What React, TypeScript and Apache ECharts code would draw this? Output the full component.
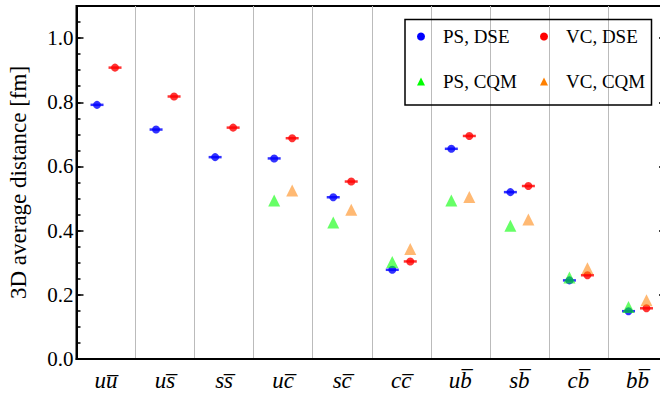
import React, { useEffect, useRef } from "react";
import * as echarts from "echarts";

const categories = [
  "u" + "u\u0305",
  "u" + "s\u0305",
  "s" + "s\u0305",
  "u" + "c\u0305",
  "s" + "c\u0305",
  "c" + "c\u0305",
  "u" + "b\u0305",
  "s" + "b\u0305",
  "c" + "b\u0305",
  "b" + "b\u0305",
];

const psDSE = [0.792, 0.715, 0.629, 0.625, 0.504, 0.278, 0.655, 0.52, 0.245, 0.149];
const vcDSE = [0.908, 0.818, 0.721, 0.688, 0.553, 0.304, 0.695, 0.539, 0.261, 0.158];
const psCQM = [null, null, null, 0.494, 0.425, 0.302, 0.494, 0.415, 0.254, 0.162];
const vcCQM = [null, null, null, 0.525, 0.465, 0.343, 0.505, 0.435, 0.283, 0.183];

const seriesNames = ["PS, DSE", "VC, DSE", "PS, CQM", "VC, CQM"];

const FONT = "Liberation Serif";

export default function App() {
  const ref = useRef<HTMLDivElement>(null);
  useEffect(() => {
    if (!ref.current) return;
    const chart = echarts.init(ref.current, null, { renderer: "svg" });
    const yBase = {
      type: "value",
      min: 0,
      max: 1.1,
      splitLine: { show: false },
    };
    const legendBase = {
      padding: 0,
      itemWidth: 8,
      itemHeight: 8,
      symbolKeepAspect: true,
      textStyle: { fontFamily: FONT, fontSize: 19, color: "#000", padding: [0, 0, 0, 13] },
      selectedMode: false,
      itemStyle: { opacity: 1 },
    };
    const option: any = {
      animation: false,
      backgroundColor: "#fff",
      textStyle: { fontFamily: FONT, color: "#000" },
      grid: {
        left: 76.5,
        right: -7,
        top: 6,
        bottom: 36,
        show: true,
        borderColor: "#000",
        borderWidth: 2,
        outerBoundsMode: "none",
        containLabel: false,
      },
      xAxis: {
        type: "category",
        data: categories,
        boundaryGap: true,
        axisLine: { show: true, lineStyle: { color: "#000", width: 2 } },
        axisTick: { show: false },
        axisLabel: {
          interval: 0,
          margin: 10,
          color: "#000",
          fontFamily: FONT,
          fontStyle: "italic",
          fontSize: 23,
        },
        splitLine: { show: true, interval: 0, lineStyle: { color: "#bbbbbb", width: 1 } },
      },
      yAxis: [
        {
          ...yBase,
          position: "left",
          interval: 0.2,
          name: "3D average distance [fm]",
          nameLocation: "middle",
          nameRotate: 90,
          nameGap: 47,
          nameTextStyle: { fontFamily: FONT, fontSize: 23, color: "#000" },
          axisLine: { show: true, lineStyle: { color: "#000", width: 2 } },
          axisTick: { show: true, inside: true, length: 7, lineStyle: { color: "#000", width: 1.5 } },
          axisLabel: {
            margin: 3,
            color: "#000",
            fontFamily: FONT,
            fontSize: 21,
            showMaxLabel: false,
            formatter: (v: number) => v.toFixed(1),
          },
        },
        {
          ...yBase,
          position: "left",
          interval: 0.05,
          axisLine: { show: false },
          axisTick: { show: true, inside: true, length: 4, lineStyle: { color: "#000", width: 1.5 } },
          axisLabel: { show: false },
        },
        {
          ...yBase,
          position: "right",
          interval: 0.2,
          axisLine: { show: false },
          axisTick: { show: true, inside: true, length: 8, lineStyle: { color: "#000", width: 1.5 } },
          axisLabel: { show: false },
        },
        {
          ...yBase,
          position: "right",
          interval: 0.05,
          axisLine: { show: false },
          axisTick: { show: true, inside: true, length: 4, lineStyle: { color: "#000", width: 1.5 } },
          axisLabel: { show: false },
        },
      ],
      legend: [
        { ...legendBase, data: [{ name: seriesNames[0], icon: "circle" }], left: 417, top: 27 },
        { ...legendBase, data: [{ name: seriesNames[1], icon: "circle" }], left: 540, top: 27 },
        { ...legendBase, data: [{ name: seriesNames[2], icon: "triangle" }], left: 417, top: 72 },
        { ...legendBase, data: [{ name: seriesNames[3], icon: "triangle" }], left: 540, top: 72 },
      ],
      graphic: [
        {
          type: "rect",
          shape: { x: 405, y: 19.5, width: 246.5, height: 85.5 },
          style: { fill: "none", stroke: "#000", lineWidth: 1.5 },
          z: 10,
        },
      ],
      series: [
        {
          name: seriesNames[0],
          type: "scatter",
          data: psDSE,
          symbol: "circle",
          symbolSize: 8,
          symbolOffset: [-9, 0],
          itemStyle: { color: "#0000ff" },
          z: 3,
        },
        {
          name: "psDSEbar",
          type: "scatter",
          data: psDSE,
          symbol: "rect",
          symbolSize: [13, 2.5],
          symbolOffset: [-9, 0],
          itemStyle: { color: "#0000ff" },
          z: 3,
        },
        {
          name: seriesNames[1],
          type: "scatter",
          data: vcDSE,
          symbol: "circle",
          symbolSize: 8,
          symbolOffset: [9, 0],
          itemStyle: { color: "#ff0000" },
          z: 3,
        },
        {
          name: "vcDSEbar",
          type: "scatter",
          data: vcDSE,
          symbol: "rect",
          symbolSize: [13, 2.5],
          symbolOffset: [9, 0],
          itemStyle: { color: "#ff0000" },
          z: 3,
        },
        {
          name: seriesNames[2],
          type: "scatter",
          data: psCQM,
          symbol: "triangle",
          symbolSize: 12,
          symbolOffset: [-9, 0],
          itemStyle: { color: "#00ff00", opacity: 0.6 },
          z: 4,
        },
        {
          name: seriesNames[3],
          type: "scatter",
          data: vcCQM,
          symbol: "triangle",
          symbolSize: 12,
          symbolOffset: [9, 0],
          itemStyle: { color: "#ff8000", opacity: 0.55 },
          z: 4,
        },
      ],
    };
    chart.setOption(option);
    return () => chart.dispose();
  }, []);
  return (
    <div
      ref={ref}
      style={{ position: "fixed", left: 0, top: 0, width: 660, height: 395, background: "#fff" }}
    />
  );
}
